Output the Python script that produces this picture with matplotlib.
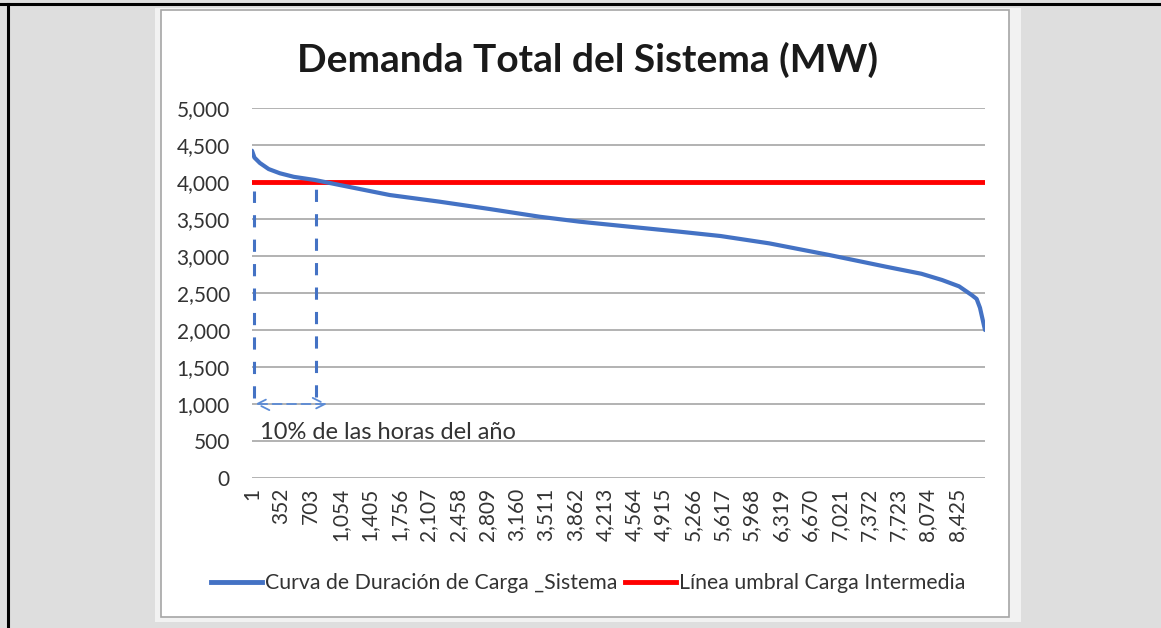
import matplotlib.pyplot as plt
from matplotlib.patches import Rectangle
from matplotlib.lines import Line2D

# curva de duracion de carga
horas = [1, 30, 95, 200, 334, 500, 752, 1050, 1647, 2243, 2840, 3437, 3914,
         4511, 5107, 5600, 6181, 6897, 7574, 8000, 8246, 8450, 8604, 8660,
         8700, 8730, 8760]
demanda = [4423, 4330, 4257, 4175, 4118, 4070, 4027, 3959, 3824, 3734, 3635,
           3531, 3464, 3396, 3329, 3270, 3171, 3014, 2856, 2760, 2676, 2590,
           2470, 2420, 2300, 2150, 2000]
umbral = 4000
hora_10pct = 760

xticks = list(range(1, 8760, 351))
yticks = list(range(0, 5001, 500))

titulo = "Demanda Total del Sistema (MW)"
serie1 = "Curva de Duración de Carga _Sistema"
serie2 = "Línea umbral Carga Intermedia"
nota = "10% de las horas del año"

plt.rcParams['font.family'] = ['Lato', 'DejaVu Sans']
azul = '#4472C4'
texto = '#333333'

fig = plt.figure(figsize=(11.61, 6.28), dpi=100)
fig.patch.set_facecolor('#dedede')

W, H = 1161, 628
# panel blanco del grafico
fig.add_artist(Rectangle((155 / W, 1 - 622 / H), 866 / W, 614 / H,
                         transform=fig.transFigure, facecolor='#f2f2f2',
                         edgecolor='none', zorder=0))
fig.add_artist(Rectangle((161 / W, 1 - 617 / H), 848 / W, 607 / H,
                         transform=fig.transFigure, facecolor='white',
                         edgecolor='#a6a6a6', linewidth=1.2, zorder=0))
# bordes negros de la captura
fig.add_artist(Line2D([0, 1], [1 - 4 / H, 1 - 4 / H], transform=fig.transFigure,
                      color='black', linewidth=2.2))
fig.add_artist(Line2D([8 / W, 8 / W], [0, 1 - 4 / H], transform=fig.transFigure,
                      color='black', linewidth=2.2))

ax = fig.add_axes([252 / W, 1 - 478 / H, (985 - 252) / W, 370 / H])
ax.set_facecolor('none')

ax.plot(horas, demanda, color=azul, linewidth=3, solid_capstyle='round',
        label=serie1, zorder=4)
ax.axhline(umbral, color='#ff0000', linewidth=3.5, label=serie2, zorder=3)

# lineas punteadas y flecha del 10%
ax.plot([30, 30], [1080, 3880], color=azul, linestyle=(0, (4, 4)), linewidth=2.2)
ax.plot([hora_10pct, hora_10pct], [1100, 3990], color=azul,
        linestyle=(0, (4, 4)), linewidth=2.2)
ax.annotate('', xy=(5, 1000), xytext=(930, 1000),
            arrowprops=dict(arrowstyle='<->', color='#5b8bd6', linewidth=1.3,
                            linestyle=(0, (5, 3)), mutation_scale=22))
ax.text(95, 610, nota, fontsize=17, color=texto, va='center', ha='left')

ax.set_xlim(1, 8760)
ax.set_ylim(0, 5000)
ax.set_yticks(yticks)
ax.set_yticklabels([f'{v:,}' for v in yticks])
ax.set_xticks(xticks)
ax.set_xticklabels([f'{v:,}' for v in xticks], rotation=90)
ax.tick_params(axis='y', length=0, pad=16, labelsize=15, labelcolor=texto)
ax.tick_params(axis='x', length=0, pad=7, labelsize=15, labelcolor=texto)
ax.grid(axis='y', color='#a6a6a6', linewidth=1.2)
ax.grid(axis='x', visible=False)
for s in ax.spines.values():
    s.set_visible(False)

fig.text(588 / W, 1 - 60 / H, titulo, fontsize=28, fontweight='bold',
         color='#1a1a1a', ha='center', va='center')

handles = [Line2D([], [], color=azul, linewidth=3.5),
           Line2D([], [], color='#ff0000', linewidth=3.5)]
fig.legend(handles, [serie1, serie2], loc='center', ncol=2,
           bbox_to_anchor=(588 / W, 1 - 583 / H), frameon=False, fontsize=15.3,
           handlelength=2.4, handletextpad=0.15, columnspacing=0.35,
           labelcolor=texto)

fig.savefig('out.png', dpi=100, facecolor=fig.get_facecolor())
